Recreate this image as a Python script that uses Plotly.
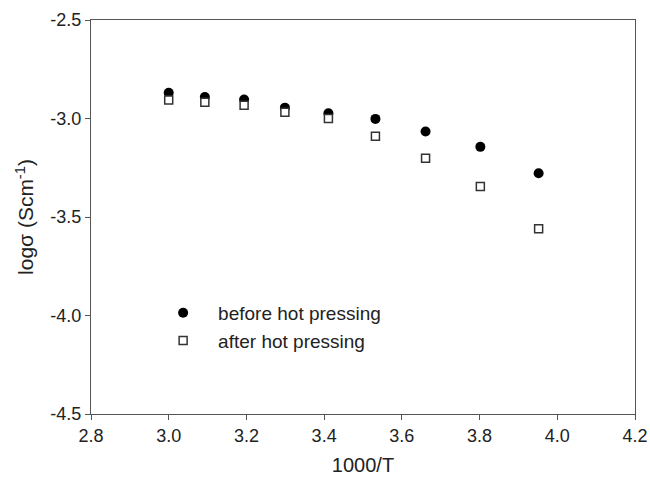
import plotly.graph_objects as go

inv_T = [3.00, 3.093, 3.194, 3.299, 3.411, 3.532, 3.661, 3.802, 3.952]
before_hp = [-2.869, -2.891, -2.904, -2.945, -2.973, -3.002, -3.066, -3.144, -3.278]
after_hp = [-2.906, -2.918, -2.933, -2.968, -3.000, -3.090, -3.202, -3.345, -3.560]

x_ticks = [2.8, 3.0, 3.2, 3.4, 3.6, 3.8, 4.0, 4.2]
y_ticks = [-4.5, -4.0, -3.5, -3.0, -2.5]

FONT = "Liberation Sans, Arial"

fig = go.Figure()
fig.add_trace(go.Scatter(x=inv_T, y=before_hp, mode="markers", name="before hot pressing",
                         marker=dict(symbol="circle", size=10, color="black", line=dict(width=0))))
fig.add_trace(go.Scatter(x=inv_T, y=after_hp, mode="markers", name="after hot pressing",
                         marker=dict(symbol="square", size=8, color="white", line=dict(width=1.5, color="#333"))))

axis_common = dict(showgrid=False, zeroline=False, showline=True, linecolor="#555", linewidth=1.3,
                   mirror=True, ticks="outside", ticklen=5, tickcolor="#555", tickwidth=1.3,
                   automargin=False,
                   tickfont=dict(family=FONT, size=18, color="#222"))

fig.update_xaxes(range=[2.8, 4.2], tickvals=x_ticks, ticktext=[f"{v:.1f}" for v in x_ticks],
                 title=dict(text="1000/T", font=dict(family=FONT, size=20, color="#222"), standoff=13),
                 **axis_common)
fig.update_yaxes(range=[-4.5, -2.5], tickvals=y_ticks, ticktext=[f"{v:.1f}" for v in y_ticks],
                 title=dict(text="logσ (Scm<sup>-1</sup>)", font=dict(family=FONT, size=21, color="#222"), standoff=10),
                 **axis_common)

fig.update_layout(
    width=650, height=482,
    margin=dict(l=91, r=15, t=20, b=68),
    plot_bgcolor="white", paper_bgcolor="white",
    showlegend=True,
    legend=dict(x=0.105, y=0.305, xanchor="left", yanchor="top", bgcolor="rgba(0,0,0,0)",
                font=dict(family=FONT, size=19, color="#222"),
                itemwidth=60, tracegroupgap=0),
)

fig.write_html("out.html", config={"displayModeBar": False},
               post_script="document.body.style.margin='0px';")
